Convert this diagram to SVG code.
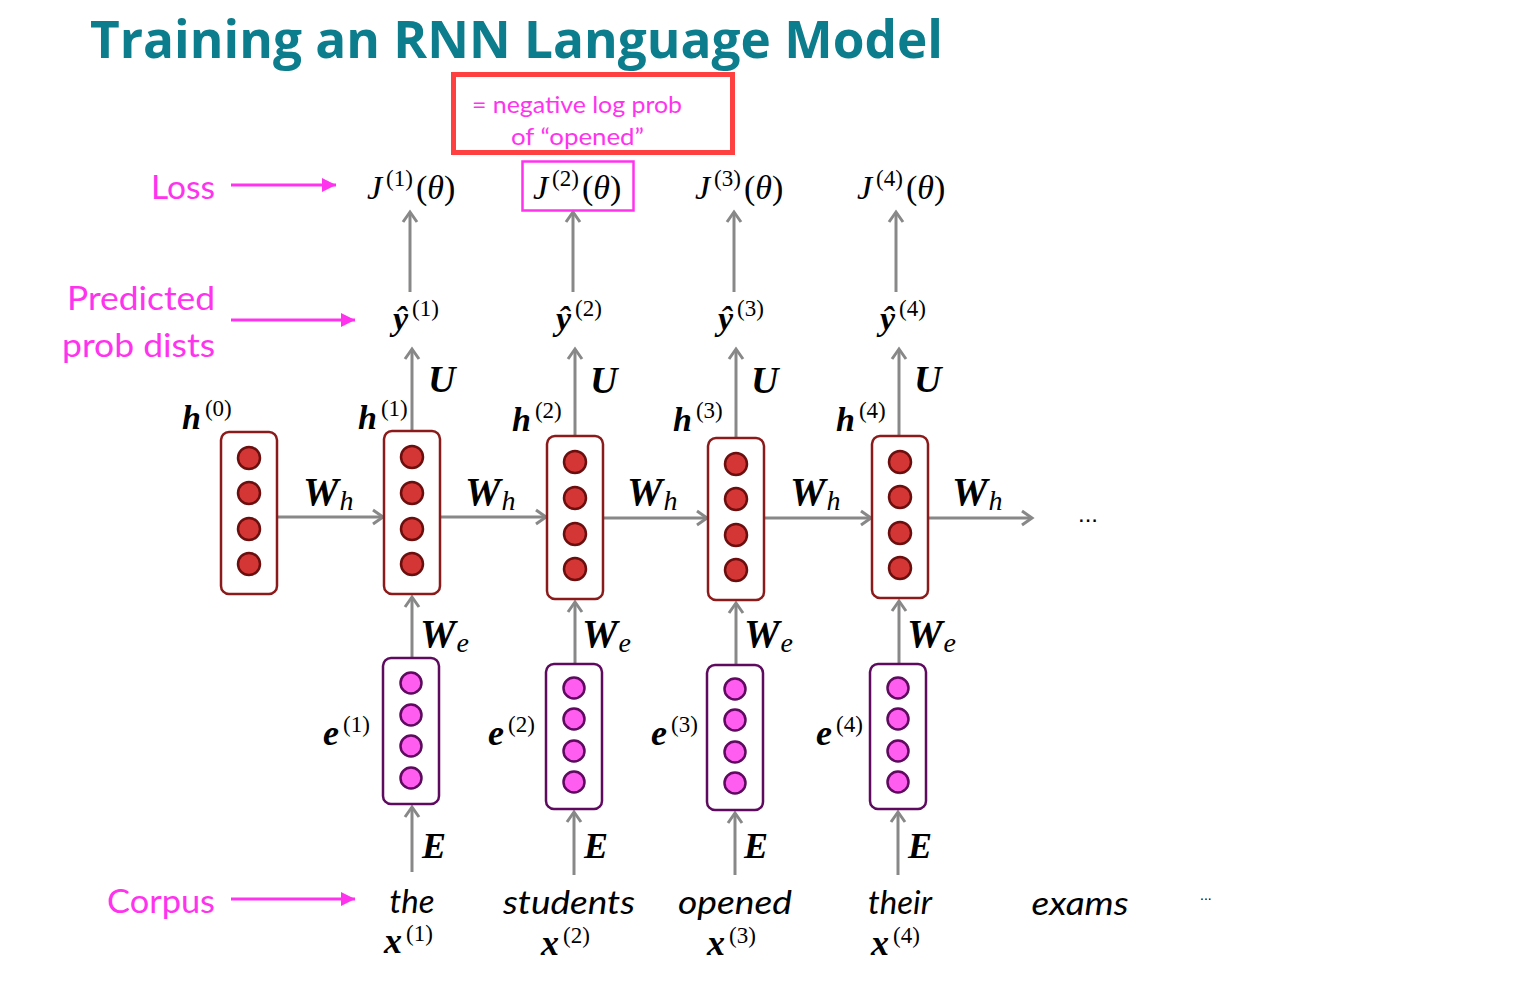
<svg xmlns="http://www.w3.org/2000/svg" width="1537" height="992" viewBox="0 0 1537 992">
<style>
.title{font-family:"Open Sans","Noto Sans",sans-serif;font-weight:bold;font-size:52px;fill:#0b7d8c}
.mag{font-family:Lato,"Noto Sans",sans-serif;font-size:33px;fill:#ff33ee}
.note{font-family:Lato,"Noto Sans",sans-serif;font-size:24px;fill:#ff33ee}
.word{font-family:Lato,"Noto Sans",sans-serif;font-style:italic;font-size:33px;fill:#000}
.m{font-family:"Liberation Serif","DejaVu Serif",serif;fill:#000}
.bi{font-weight:bold;font-style:italic}
.it{font-style:italic}
.sup{font-size:23px}
.ln{stroke:#888;stroke-width:3;fill:none}
.mln{stroke:#ff33ee;stroke-width:3;fill:none}
.hb{fill:#fff;stroke:#8b1a1a;stroke-width:2.5}
.hc{fill:#d43535;stroke:#6a0e0e;stroke-width:2.5}
.eb{fill:#fff;stroke:#5e0a5e;stroke-width:2.5}
.ec{fill:#ff5cf0;stroke:#5e0a5e;stroke-width:2.5}
</style>
<defs>
<marker id="ga" markerUnits="userSpaceOnUse" markerWidth="16" markerHeight="18" refX="12" refY="9" orient="auto">
<path d="M2,2 L12,9 L2,16" fill="none" stroke="#888" stroke-width="3"/>
</marker>
<marker id="ma" markerUnits="userSpaceOnUse" markerWidth="16" markerHeight="14" refX="14" refY="7" orient="auto">
<path d="M0,0 L14,7 L0,14 Z" fill="#ff33ee"/>
</marker>
</defs>
<rect width="1537" height="992" fill="#fff"/>
<text class="title" x="90" y="58" textLength="853" lengthAdjust="spacingAndGlyphs">Training an RNN Language Model</text>

<g id="note">
<rect x="453.5" y="74.5" width="279" height="78" fill="none" stroke="#ff4040" stroke-width="5"/>
<text class="note" x="472" y="113" textLength="210" lengthAdjust="spacingAndGlyphs">= negative log prob</text>
<text class="note" x="511" y="145" textLength="133" lengthAdjust="spacingAndGlyphs">of “opened”</text>
</g>

<g id="side-labels">
<text class="mag" x="151" y="199" textLength="64" lengthAdjust="spacingAndGlyphs">Loss</text>
<text class="mag" x="67" y="310" textLength="148" lengthAdjust="spacingAndGlyphs">Predicted</text>
<text class="mag" x="62" y="357" textLength="153" lengthAdjust="spacingAndGlyphs">prob dists</text>
<text class="mag" x="107" y="913" textLength="108" lengthAdjust="spacingAndGlyphs">Corpus</text>
</g>

<g id="connectors">
<line class="mln" x1="231" y1="185" x2="336" y2="185" marker-end="url(#ma)"/>
<line class="mln" x1="231" y1="320" x2="355" y2="320" marker-end="url(#ma)"/>
<line class="mln" x1="231" y1="899" x2="355" y2="899" marker-end="url(#ma)"/>
<line class="ln" x1="410" y1="292" x2="410" y2="212" marker-end="url(#ga)"/>
<line class="ln" x1="573" y1="292" x2="573" y2="212" marker-end="url(#ga)"/>
<line class="ln" x1="734" y1="292" x2="734" y2="212" marker-end="url(#ga)"/>
<line class="ln" x1="896" y1="292" x2="896" y2="212" marker-end="url(#ga)"/>
<line class="ln" x1="412" y1="431" x2="412" y2="349" marker-end="url(#ga)"/>
<line class="ln" x1="575" y1="436" x2="575" y2="349" marker-end="url(#ga)"/>
<line class="ln" x1="736" y1="438" x2="736" y2="349" marker-end="url(#ga)"/>
<line class="ln" x1="899" y1="436" x2="899" y2="349" marker-end="url(#ga)"/>
<line class="ln" x1="277" y1="517" x2="383" y2="517" marker-end="url(#ga)"/>
<line class="ln" x1="440" y1="517" x2="546" y2="517" marker-end="url(#ga)"/>
<line class="ln" x1="603" y1="518" x2="707" y2="518" marker-end="url(#ga)"/>
<line class="ln" x1="764" y1="518" x2="871" y2="518" marker-end="url(#ga)"/>
<line class="ln" x1="928" y1="518" x2="1032" y2="518" marker-end="url(#ga)"/>
<line class="ln" x1="412" y1="658" x2="412" y2="597" marker-end="url(#ga)"/>
<line class="ln" x1="575" y1="664" x2="575" y2="602" marker-end="url(#ga)"/>
<line class="ln" x1="736" y1="665" x2="736" y2="603" marker-end="url(#ga)"/>
<line class="ln" x1="899" y1="664" x2="899" y2="601" marker-end="url(#ga)"/>
<line class="ln" x1="412" y1="872" x2="412" y2="807" marker-end="url(#ga)"/>
<line class="ln" x1="574" y1="875" x2="574" y2="812" marker-end="url(#ga)"/>
<line class="ln" x1="735" y1="875" x2="735" y2="813" marker-end="url(#ga)"/>
<line class="ln" x1="898" y1="875" x2="898" y2="812" marker-end="url(#ga)"/>
</g>

<g id="losses" class="m" font-size="34">
<text x="367" y="199"><tspan class="it">J</tspan><tspan class="sup" dx="4" dy="-13">(1)</tspan><tspan dx="3" dy="13">(</tspan><tspan class="it">θ</tspan>)</text>
<text x="533" y="199"><tspan class="it">J</tspan><tspan class="sup" dx="4" dy="-13">(2)</tspan><tspan dx="3" dy="13">(</tspan><tspan class="it">θ</tspan>)</text>
<text x="695" y="199"><tspan class="it">J</tspan><tspan class="sup" dx="4" dy="-13">(3)</tspan><tspan dx="3" dy="13">(</tspan><tspan class="it">θ</tspan>)</text>
<text x="857" y="199"><tspan class="it">J</tspan><tspan class="sup" dx="4" dy="-13">(4)</tspan><tspan dx="3" dy="13">(</tspan><tspan class="it">θ</tspan>)</text>
<rect x="522.5" y="161.5" width="111" height="49" fill="none" stroke="#ff33ee" stroke-width="2.5"/>
</g>

<g id="preds" class="m" font-size="34">
<text x="393" y="330"><tspan class="bi">ŷ</tspan><tspan class="sup" dx="4" dy="-14">(1)</tspan></text>
<text x="556" y="330"><tspan class="bi">ŷ</tspan><tspan class="sup" dx="4" dy="-14">(2)</tspan></text>
<text x="718" y="330"><tspan class="bi">ŷ</tspan><tspan class="sup" dx="4" dy="-14">(3)</tspan></text>
<text x="880" y="330"><tspan class="bi">ŷ</tspan><tspan class="sup" dx="4" dy="-14">(4)</tspan></text>
</g>

<g id="weight-labels" class="m">
<text class="bi" font-size="38" x="428" y="392">U</text>
<text class="bi" font-size="38" x="590" y="393">U</text>
<text class="bi" font-size="38" x="751" y="393">U</text>
<text class="bi" font-size="38" x="914" y="392">U</text>
<text font-size="40" x="303" y="505"><tspan class="bi">W</tspan><tspan class="it" font-size="28" dx="1" dy="5">h</tspan></text>
<text font-size="40" x="465" y="505"><tspan class="bi">W</tspan><tspan class="it" font-size="28" dx="1" dy="5">h</tspan></text>
<text font-size="40" x="627" y="505"><tspan class="bi">W</tspan><tspan class="it" font-size="28" dx="1" dy="5">h</tspan></text>
<text font-size="40" x="790" y="505"><tspan class="bi">W</tspan><tspan class="it" font-size="28" dx="1" dy="5">h</tspan></text>
<text font-size="40" x="952" y="505"><tspan class="bi">W</tspan><tspan class="it" font-size="28" dx="1" dy="5">h</tspan></text>
<text font-size="40" x="420" y="647"><tspan class="bi">W</tspan><tspan class="it" font-size="28" dx="1" dy="5">e</tspan></text>
<text font-size="40" x="582" y="647"><tspan class="bi">W</tspan><tspan class="it" font-size="28" dx="1" dy="5">e</tspan></text>
<text font-size="40" x="744" y="647"><tspan class="bi">W</tspan><tspan class="it" font-size="28" dx="1" dy="5">e</tspan></text>
<text font-size="40" x="907" y="647"><tspan class="bi">W</tspan><tspan class="it" font-size="28" dx="1" dy="5">e</tspan></text>
<text class="bi" font-size="36" x="422" y="858">E</text>
<text class="bi" font-size="36" x="584" y="858">E</text>
<text class="bi" font-size="36" x="744" y="858">E</text>
<text class="bi" font-size="36" x="908" y="858">E</text>
<text x="1078" y="522" font-family="Liberation Sans,sans-serif" font-size="24">...</text>
</g>

<g id="h0">
<rect class="hb" x="221" y="432" width="56" height="162" rx="8"/>
<circle class="hc" cx="249" cy="458" r="11"/><circle class="hc" cx="249" cy="493" r="11"/><circle class="hc" cx="249" cy="529" r="11"/><circle class="hc" cx="249" cy="564" r="11"/>
<text class="m" font-size="34" x="182" y="429"><tspan class="bi">h</tspan><tspan class="sup" dx="4" dy="-13">(0)</tspan></text>
</g>
<g id="h1">
<rect class="hb" x="384" y="431" width="56" height="163" rx="8"/>
<circle class="hc" cx="412" cy="457" r="11"/><circle class="hc" cx="412" cy="493" r="11"/><circle class="hc" cx="412" cy="529" r="11"/><circle class="hc" cx="412" cy="564" r="11"/>
<text class="m" font-size="34" x="358" y="429"><tspan class="bi">h</tspan><tspan class="sup" dx="4" dy="-13">(1)</tspan></text>
</g>
<g id="h2">
<rect class="hb" x="547" y="436" width="56" height="163" rx="8"/>
<circle class="hc" cx="575" cy="462" r="11"/><circle class="hc" cx="575" cy="498" r="11"/><circle class="hc" cx="575" cy="534" r="11"/><circle class="hc" cx="575" cy="569" r="11"/>
<text class="m" font-size="34" x="512" y="431"><tspan class="bi">h</tspan><tspan class="sup" dx="4" dy="-13">(2)</tspan></text>
</g>
<g id="h3">
<rect class="hb" x="708" y="438" width="56" height="162" rx="8"/>
<circle class="hc" cx="736" cy="464" r="11"/><circle class="hc" cx="736" cy="499" r="11"/><circle class="hc" cx="736" cy="535" r="11"/><circle class="hc" cx="736" cy="570" r="11"/>
<text class="m" font-size="34" x="673" y="431"><tspan class="bi">h</tspan><tspan class="sup" dx="4" dy="-13">(3)</tspan></text>
</g>
<g id="h4">
<rect class="hb" x="872" y="436" width="56" height="162" rx="8"/>
<circle class="hc" cx="900" cy="462" r="11"/><circle class="hc" cx="900" cy="497" r="11"/><circle class="hc" cx="900" cy="533" r="11"/><circle class="hc" cx="900" cy="568" r="11"/>
<text class="m" font-size="34" x="836" y="431"><tspan class="bi">h</tspan><tspan class="sup" dx="4" dy="-13">(4)</tspan></text>
</g>

<g id="e1">
<rect class="eb" x="383" y="658" width="56" height="146" rx="8"/>
<circle class="ec" cx="411" cy="683" r="10.5"/><circle class="ec" cx="411" cy="715" r="10.5"/><circle class="ec" cx="411" cy="746" r="10.5"/><circle class="ec" cx="411" cy="778" r="10.5"/>
<text class="m" font-size="36" x="323" y="745"><tspan class="bi">e</tspan><tspan class="sup" font-size="25" dx="4" dy="-13">(1)</tspan></text>
</g>
<g id="e2">
<rect class="eb" x="546" y="664" width="56" height="145" rx="8"/>
<circle class="ec" cx="574" cy="688" r="10.5"/><circle class="ec" cx="574" cy="719" r="10.5"/><circle class="ec" cx="574" cy="751" r="10.5"/><circle class="ec" cx="574" cy="782" r="10.5"/>
<text class="m" font-size="36" x="488" y="745"><tspan class="bi">e</tspan><tspan class="sup" font-size="25" dx="4" dy="-13">(2)</tspan></text>
</g>
<g id="e3">
<rect class="eb" x="707" y="665" width="56" height="145" rx="8"/>
<circle class="ec" cx="735" cy="689" r="10.5"/><circle class="ec" cx="735" cy="720" r="10.5"/><circle class="ec" cx="735" cy="752" r="10.5"/><circle class="ec" cx="735" cy="783" r="10.5"/>
<text class="m" font-size="36" x="651" y="745"><tspan class="bi">e</tspan><tspan class="sup" font-size="25" dx="4" dy="-13">(3)</tspan></text>
</g>
<g id="e4">
<rect class="eb" x="870" y="664" width="56" height="145" rx="8"/>
<circle class="ec" cx="898" cy="688" r="10.5"/><circle class="ec" cx="898" cy="719" r="10.5"/><circle class="ec" cx="898" cy="751" r="10.5"/><circle class="ec" cx="898" cy="782" r="10.5"/>
<text class="m" font-size="36" x="816" y="745"><tspan class="bi">e</tspan><tspan class="sup" font-size="25" dx="4" dy="-13">(4)</tspan></text>
</g>

<g id="corpus">
<text class="word" x="412" y="913" text-anchor="middle">the</text>
<text class="word" x="569" y="914" text-anchor="middle" textLength="132" lengthAdjust="spacingAndGlyphs">students</text>
<text class="word" x="735" y="914" text-anchor="middle" textLength="114" lengthAdjust="spacingAndGlyphs">opened</text>
<text class="word" x="900" y="914" text-anchor="middle">their</text>
<text class="word" x="1080" y="915" text-anchor="middle" textLength="97" lengthAdjust="spacingAndGlyphs">exams</text>
<text x="1200" y="900" font-family="Liberation Sans,sans-serif" font-size="14">...</text>
<text class="m" font-size="36" x="384" y="953"><tspan class="bi">x</tspan><tspan class="sup" font-size="24" dx="4" dy="-12">(1)</tspan></text>
<text class="m" font-size="36" x="541" y="955"><tspan class="bi">x</tspan><tspan class="sup" font-size="24" dx="4" dy="-12">(2)</tspan></text>
<text class="m" font-size="36" x="707" y="955"><tspan class="bi">x</tspan><tspan class="sup" font-size="24" dx="4" dy="-12">(3)</tspan></text>
<text class="m" font-size="36" x="871" y="955"><tspan class="bi">x</tspan><tspan class="sup" font-size="24" dx="4" dy="-12">(4)</tspan></text>
</g>
</svg>
